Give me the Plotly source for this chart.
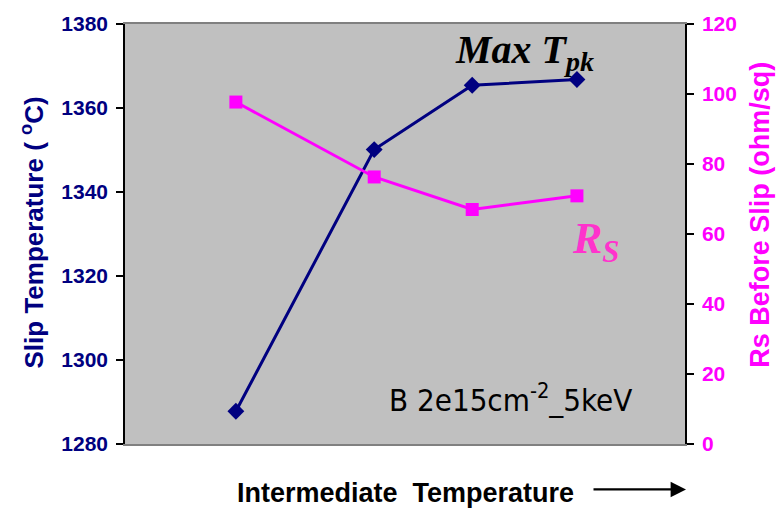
import plotly.graph_objects as go

# Intermediate anneal temperature steps (relative position along an unlabeled axis)
inter_temp = [19.8, 44.5, 62.0, 80.7]
# Slip temperature (°C) on the left axis
slip_temp = [1287.8, 1350.1, 1365.4, 1366.8]
# Sheet resistance before slip (ohm/sq) on the right axis
rs_before = [97.7, 76.3, 67.0, 70.9]

left_ticks = [1280, 1300, 1320, 1340, 1360, 1380]
right_ticks = [0, 20, 40, 60, 80, 100, 120]

NAVY = "#000080"
MAGENTA = "#FF00FF"
PINK = "#FF33CC"
SANS = "Liberation Sans, Arial, sans-serif"
SERIF = "Liberation Serif, Times New Roman, serif"

fig = go.Figure()

fig.add_trace(go.Scatter(
    x=inter_temp, y=slip_temp, mode="lines+markers",
    line=dict(color=NAVY, width=3),
    marker=dict(symbol="diamond", size=13, color=NAVY),
    yaxis="y", showlegend=False,
))
fig.add_trace(go.Scatter(
    x=inter_temp, y=rs_before, mode="lines+markers",
    line=dict(color=MAGENTA, width=3),
    marker=dict(symbol="square", size=13, color=MAGENTA),
    yaxis="y2", showlegend=False,
))

fig.update_layout(
    width=779, height=512,
    margin=dict(l=125, r=94, t=19, b=68),
    paper_bgcolor="white",
    plot_bgcolor="#C0C0C0",
    xaxis=dict(
        range=[0, 100], showticklabels=False, ticks="", showgrid=False,
        zeroline=False, showline=True, linecolor="#808080", linewidth=2,
        mirror=True,
    ),
    yaxis=dict(
        range=[1280, 1380], tickvals=left_ticks,
        ticktext=[f"<b>{v}</b>" for v in left_ticks],
        showgrid=False, zeroline=False,
        showline=True, linecolor="black", linewidth=1.5,
        ticks="outside", ticklen=7, tickcolor="black", tickwidth=1.5,
        ticklabelstandoff=4,
        tickfont=dict(family=SANS, size=21, color=NAVY, weight=700),
    ),
    yaxis2=dict(
        range=[0, 120], tickvals=right_ticks,
        ticktext=[f"<b>{v}</b>" for v in right_ticks],
        overlaying="y", side="right",
        showgrid=False, zeroline=False,
        showline=True, linecolor="black", linewidth=1.5,
        ticks="outside", ticklen=7, tickcolor="black", tickwidth=1.5,
        ticklabelstandoff=4,
        tickfont=dict(family=SANS, size=21, color=MAGENTA, weight=700),
    ),
)

def px_x(x):
    return (x - 125) / 560

def px_y(y):
    return (444 - y) / 425

annotations = [
    # axis titles
    dict(text="<b>Slip Temperature ( <sup>o</sup>C)</b>", x=px_x(33), y=px_y(230),
         textangle=-90, font=dict(family=SANS, size=26, color=NAVY)),
    dict(text="<b>Rs Before Slip (ohm/sq)</b>", x=px_x(760), y=px_y(212),
         textangle=-90, font=dict(family=SANS, size=27, color=MAGENTA)),
    dict(text="<b>Intermediate  Temperature</b>", x=px_x(405), y=px_y(494),
         font=dict(family=SANS, size=27, color="black")),
    # series labels
    dict(text="<b><i>Max T<sub>pk</sub></i></b>", x=px_x(453), y=px_y(47),
         xanchor="left", font=dict(family=SERIF, size=40, color="black")),
    dict(text="<b><i>R<sub>S</sub></i></b>", x=px_x(570), y=px_y(239),
         xanchor="left", font=dict(family=SERIF, size=44, color=PINK)),
    # implant condition
    dict(text="B 2e15cm<sup>-2</sup>_5keV", x=px_x(387), y=px_y(397),
         xanchor="left",
         font=dict(family="Liberation Sans Narrow, DejaVu Sans Condensed, Arial Narrow, sans-serif",
                   size=31, color="black")),
]
for a in annotations:
    a.setdefault("xref", "paper")
    a.setdefault("yref", "paper")
    a.setdefault("xanchor", "center")
    a.setdefault("yanchor", "middle")
    a.setdefault("showarrow", False)
    fig.add_annotation(**a)

# direction arrow beside the x-axis title
fig.add_annotation(
    xref="paper", yref="paper", x=px_x(686), y=px_y(490),
    ax=-94, ay=0, axref="pixel", ayref="pixel",
    showarrow=True, arrowhead=2, arrowsize=1.4, arrowwidth=2.2,
    arrowcolor="black", text="",
)

fig.write_html("out.html")
